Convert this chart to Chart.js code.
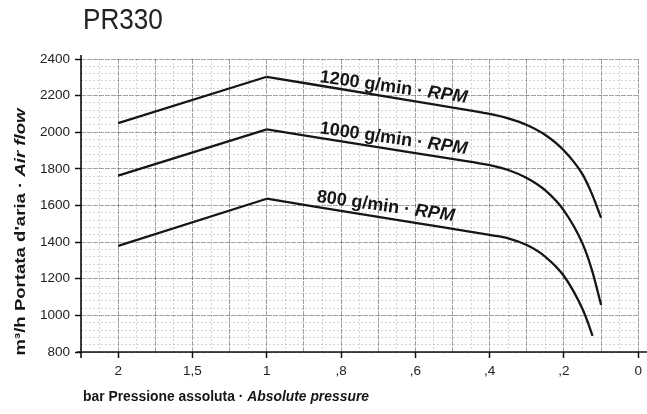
<!DOCTYPE html>
<html>
<head>
<meta charset="utf-8">
<script src="https://cdn.jsdelivr.net/npm/chart.js@4/dist/chart.umd.min.js"></script>
<style>
html,body{margin:0;padding:0;background:#fff;}
#wrap{width:647px;height:414px;position:relative;}
canvas{display:block;}
</style>
</head>
<body>
<div id="wrap"><canvas id="c" width="647" height="414"></canvas></div>
<script>
// ---- data (absolute pressure in bar, air flow in m3/h) ----
const chartTitle = 'PR330';
const pressure1200 = [2, 1, 0.6, 0.45, 0.4, 0.35, 0.3, 0.25, 0.2, 0.15, 0.125, 0.1];
const flow1200     = [2050, 2303, 2168, 2118, 2100, 2076, 2040, 1985, 1900, 1770, 1665, 1533];
const pressure1000 = [2, 1, 0.6, 0.45, 0.4, 0.35, 0.3, 0.25, 0.2, 0.15, 0.125, 0.1];
const flow1000     = [1763, 2016, 1886, 1838, 1821, 1794, 1750, 1682, 1572, 1392, 1250, 1057];
const pressure800  = [2, 1, 0.6, 0.45, 0.4, 0.35, 0.3, 0.25, 0.2, 0.15, 0.135, 0.123];
const flow800      = [1380, 1637, 1505, 1456, 1439, 1421, 1384, 1320, 1215, 1035, 958, 888];
const seriesNames  = ['1200 g/min · ', '1000 g/min · ', '800 g/min · '];
const seriesUnit   = 'RPM';
const xTickValues  = [2, 1.5, 1, 0.8, 0.6, 0.4, 0.2, 0];
const xTickLabels  = ['2', '1,5', '1', ',8', ',6', ',4', ',2', '0'];
const yTickStep    = 200;
const xTitleMain   = 'bar Pressione assoluta · ';
const xTitleItalic = 'Absolute pressure';
const yTitleMain   = 'm³/h Portata d\'aria · ';
const yTitleItalic = 'Air flow';

// ---- axis transform: 2..1 bar compressed (0.5 bar per division), 1..0 bar (0.2 bar per division)
function toAxis(p) { return p >= 1 ? (2 - p) / 0.5 : 2 + (1 - p) / 0.2; }
function fromAxis(u) { return u <= 2 ? 2 - 0.5 * u : 1 - 0.2 * (u - 2); }

const FONT = '"Liberation Sans", Arial, Helvetica, sans-serif';
const INK = '#161616';

function pts(ps, vs, from, to) {
  const out = [];
  for (let i = from; i <= to; i++) out.push({ x: toAxis(ps[i]), y: vs[i] });
  return out;
}
const series = [[pressure1200, flow1200], [pressure1000, flow1000], [pressure800, flow800]];
const datasets = [];
series.forEach(([ps, vs]) => {
  const peak = ps.indexOf(1);
  datasets.push({ data: pts(ps, vs, 0, peak), borderColor: INK, borderWidth: 2.3, pointRadius: 0, tension: 0, fill: false });
  datasets.push({ data: pts(ps, vs, peak, ps.length - 1), borderColor: INK, borderWidth: 2.3, pointRadius: 0, cubicInterpolationMode: 'monotone', fill: false });
});

// label anchors (pressure, flow) of the curve captions
const captionAnchors = [ { p: 0.859, v: 2274 }, { p: 0.859, v: 1994 }, { p: 0.867, v: 1621 } ];

function isHalf(v) { return Math.abs(v * 2 - Math.round(v * 2)) < 1e-6; }
function isInt(v) { return Math.abs(v - Math.round(v)) < 1e-6; }
function isYMajor(v) { return Math.abs(v / yTickStep - Math.round(v / yTickStep)) < 1e-6; }

function drawRuns(ctx, runs, x, y, o) {
  ctx.save();
  ctx.translate(x, y);
  ctx.rotate(o.angle || 0);
  let total = 0;
  runs.forEach(r => { ctx.font = r.font; r.w = ctx.measureText(r.text).width; total += r.w; });
  const sx = o.fit ? o.fit / total : (o.sx || 1);
  ctx.scale(sx, o.sy || 1);
  ctx.fillStyle = o.color || INK;
  ctx.textAlign = 'left';
  ctx.textBaseline = 'alphabetic';
  let cx = o.align === 'center' ? -total / 2 : 0;
  runs.forEach(r => { ctx.font = r.font; ctx.fillText(r.text, cx, 0); cx += r.w; });
  ctx.restore();
}

const textPlugin = {
  id: 'texts',
  afterDraw(chart) {
    const ctx = chart.ctx, a = chart.chartArea;
    const xs = chart.scales.x, ys = chart.scales.y;
    // axis lines
    ctx.save();
    ctx.strokeStyle = '#111';
    ctx.lineWidth = 1.6;
    ctx.beginPath();
    ctx.moveTo(a.left - 4, a.bottom); ctx.lineTo(647, a.bottom);
    ctx.moveTo(a.left, a.top - 4); ctx.lineTo(a.left, a.bottom + 6);
    ctx.stroke();
    ctx.restore();
    // title
    drawRuns(ctx, [{ text: chartTitle, font: '29px ' + FONT }], 83, 29, { sx: 0.9, color: '#222' });
    // x title
    drawRuns(ctx, [{ text: xTitleMain, font: 'bold 14px ' + FONT }, { text: xTitleItalic, font: 'italic bold 14px ' + FONT }], 83, 401, { fit: 286 });
    // y title
    drawRuns(ctx, [{ text: yTitleMain, font: 'bold 15px ' + FONT }, { text: yTitleItalic, font: 'italic bold 15px ' + FONT }], 25, 232, { angle: -Math.PI / 2, align: 'center', fit: 247 });
    // curve captions
    captionAnchors.forEach((c, i) => {
      const px = xs.getPixelForValue(toAxis(c.p));
      const py = ys.getPixelForValue(c.v);
      drawRuns(ctx, [{ text: seriesNames[i], font: 'bold 18px ' + FONT }, { text: seriesUnit, font: 'italic bold 18px ' + FONT }], px, py, { angle: 8 * Math.PI / 180 });
    });
  }
};

Chart.defaults.font.family = FONT;
Chart.defaults.color = '#222';

new Chart(document.getElementById('c'), {
  type: 'line',
  data: { datasets },
  options: {
    responsive: false,
    animation: false,
    layout: { padding: { top: 59, right: 6, left: 0, bottom: 0 } },
    plugins: { legend: { display: false }, tooltip: { enabled: false }, title: { display: false } },
    scales: {
      x: {
        type: 'linear',
        min: -0.5, max: 7,
        afterFit: s => { s.height = 62; },
        ticks: {
          stepSize: 0.25, autoSkip: false, maxRotation: 0, padding: 5,
          font: { size: 13.5 }, color: '#222',
          callback: v => {
            if (!isInt(v) || v < 0) return '';
            const p = Math.round(fromAxis(v) * 100) / 100;
            const k = xTickValues.findIndex(t => Math.abs(t - p) < 1e-6);
            return k >= 0 ? xTickLabels[k] : '';
          }
        },
        grid: {
          color: c => (c.tick && isHalf(c.tick.value)) ? 'rgba(0,0,0,0.36)' : 'rgba(0,0,0,0.17)',
          lineWidth: 1,
          tickLength: 6,
          tickWidth: 1.5,
          tickColor: c => (c.tick && isInt(c.tick.value) && c.tick.value >= 0) ? '#111' : 'rgba(0,0,0,0)'
        },
        border: { display: false, dash: c => (c.tick && isHalf(c.tick.value)) ? [5, 1] : [2, 2] }
      },
      y: {
        type: 'linear',
        min: 800, max: 2400,
        afterFit: s => { s.width = 81; },
        ticks: {
          stepSize: 40, autoSkip: false, padding: 5,
          font: { size: 13.5 }, color: '#222',
          callback: v => isYMajor(v) ? String(Math.round(v)) : ''
        },
        grid: {
          color: c => (c.tick && isYMajor(c.tick.value)) ? 'rgba(0,0,0,0.36)' : 'rgba(0,0,0,0.17)',
          lineWidth: 1,
          tickLength: 6,
          tickWidth: 1.5,
          tickColor: c => (c.tick && isYMajor(c.tick.value)) ? '#111' : 'rgba(0,0,0,0)'
        },
        border: { display: false, dash: c => (c.tick && isYMajor(c.tick.value)) ? [5, 1] : [2, 2] }
      }
    }
  },
  plugins: [textPlugin]
});
</script>
</body>
</html>
